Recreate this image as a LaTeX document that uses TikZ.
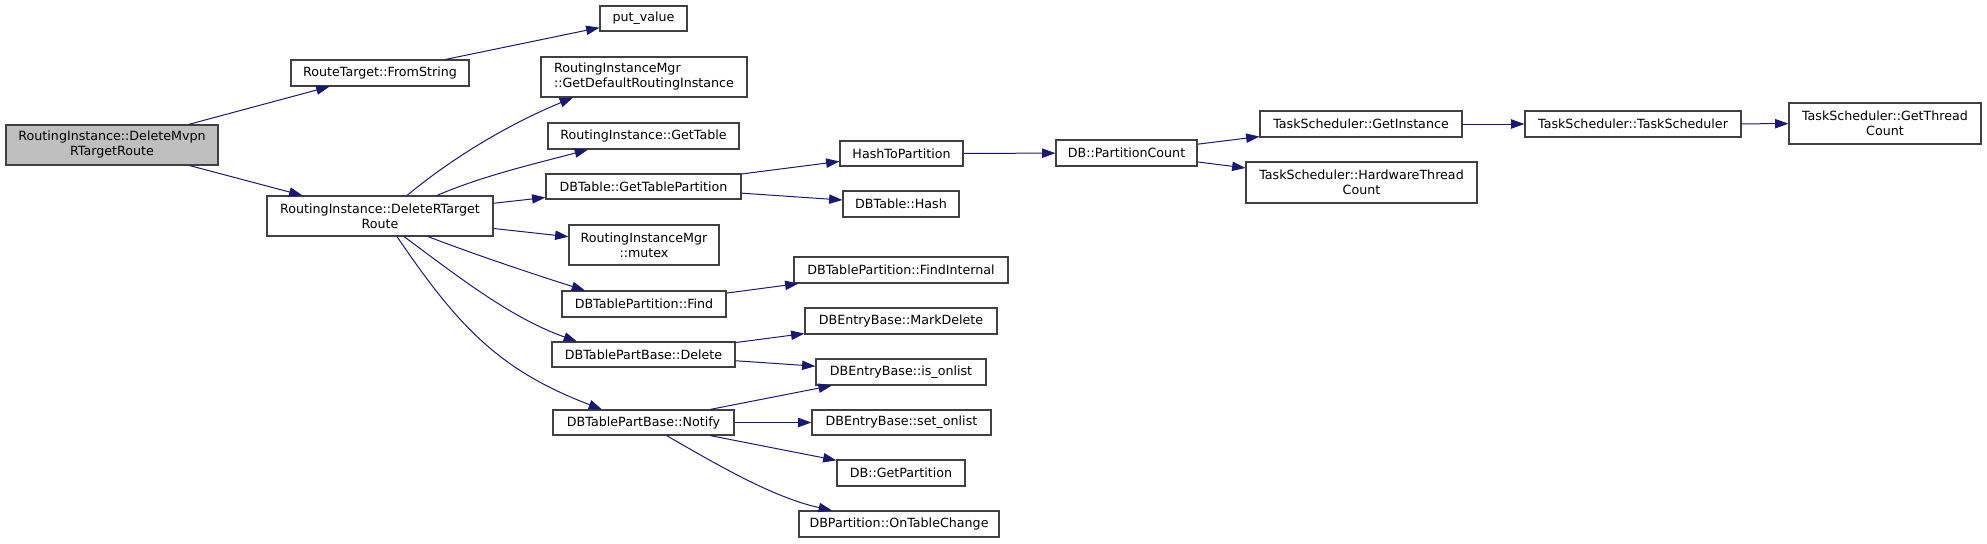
\documentclass[tikz,border=0pt]{standalone}
\usepackage{fontspec}
\setmainfont{DejaVu Sans}
\usetikzlibrary{arrows.meta,calc}
\definecolor{navy}{RGB}{25,25,112}
\definecolor{boxgray}{RGB}{64,64,64}
\definecolor{maingray}{RGB}{191,191,191}
\tikzset{
  box/.style={draw=boxgray, line width=0.85pt, fill=white, rectangle, inner sep=0pt, align=center,
    font=\fontsize{9.5pt}{11.25pt}\selectfont},
  sz/.style 2 args={minimum width=#1*0.75pt, minimum height=#2*0.75pt},
  edge/.style={draw=navy, line width=0.75pt, -{Triangle[length=10pt,width=7pt]}}
}
\begin{document}
\begin{tikzpicture}[x=0.75pt,y=-0.75pt]
\useasboundingbox (0,0) rectangle (1987,543);
% nodes
\node[box,fill=maingray,sz={212}{40}] (main) at (112,145) {RoutingInstance::DeleteMvpn\\RTargetRoute};
\node[box,sz={178}{26}] (fs) at (380,73) {RouteTarget::FromString};
\node[box,sz={226}{40}] (dr) at (380,216) {RoutingInstance::DeleteRTarget\\Route};
\node[box,sz={87}{25}] (pv) at (643.5,18.5) {put\_value};
\node[box,sz={206}{40},align=left] (gdr) at (644,77) {RoutingInstanceMgr\\::GetDefaultRoutingInstance};
\node[box,sz={191}{26}] (gt) at (643.5,136) {RoutingInstance::GetTable};
\node[box,sz={195}{25}] (gtp) at (643.5,186.5) {DBTable::GetTablePartition};
\node[box,sz={150}{40}] (mx) at (644,245) {RoutingInstanceMgr\\::mutex};
\node[box,sz={164}{26}] (fd) at (644,304) {DBTablePartition::Find};
\node[box,sz={183}{25}] (dl) at (643.5,354.5) {DBTablePartBase::Delete};
\node[box,sz={181}{25}] (nt) at (643.5,422.5) {DBTablePartBase::Notify};
\node[box,sz={123}{25}] (htp) at (901.5,153.5) {HashToPartition};
\node[box,sz={116}{26}] (hs) at (901,204) {DBTable::Hash};
\node[box,sz={214}{26}] (fi) at (901,270) {DBTablePartition::FindInternal};
\node[box,sz={192}{26}] (md) at (901,321) {DBEntryBase::MarkDelete};
\node[box,sz={170}{26}] (io) at (901,372) {DBEntryBase::is\_onlist};
\node[box,sz={179}{25}] (so) at (901.5,422.5) {DBEntryBase::set\_onlist};
\node[box,sz={128}{26}] (gp) at (901,473) {DB::GetPartition};
\node[box,sz={200}{26}] (otc) at (899,524) {DBPartition::OnTableChange};
\node[box,sz={141}{26}] (pc) at (1126.5,153) {DB::PartitionCount};
\node[box,sz={202}{26}] (gi) at (1361,124) {TaskScheduler::GetInstance};
\node[box,sz={231}{41}] (hw) at (1361.5,182.5) {TaskScheduler::HardwareThread\\Count};
\node[box,sz={216}{26}] (ts) at (1633,124) {TaskScheduler::TaskScheduler};
\node[box,sz={192}{41}] (gtc) at (1885,123.5) {TaskScheduler::GetThread\\Count};
% edges
\draw[edge] (main) -- (fs);
\draw[edge] (main) -- (dr);
\draw[edge] (fs) -- (pv);
\draw[edge] ($(dr.north)+(27,0)$) .. controls (456.8,154.2) and (513.2,122.4) .. ($(gdr.south)+(-71,0)$);
\draw[edge] ($(dr.north)+(57,0)$) .. controls (483,175.5) and (540,162.5) .. ($(gt.south)+(-55.5,0)$);
\draw[edge] (dr) -- (gtp);
\draw[edge] (dr) -- (mx);
\draw[edge] ($(dr.south)+(48,0)$) .. controls (474.5,254.5) and (537.5,275.5) .. ($(fd.north)+(-59,0)$);
\draw[edge] ($(dr.south)+(24,0)$) .. controls (460,278) and (511,318) .. ($(dl.north)+(-66.5,0)$);
\draw[edge] ($(dr.south)+(17,0)$) .. controls (458.6,327.3) and (499.7,370.4) .. ($(nt.north)+(-41.5,0)$);
\draw[edge] (gtp) -- (htp);
\draw[edge] (gtp) -- (hs);
\draw[edge] (htp) -- (pc);
\draw[edge] (pc) -- (gi);
\draw[edge] (pc) -- (hw);
\draw[edge] (gi) -- (ts);
\draw[edge] (ts) -- (gtc);
\draw[edge] (fd) -- (fi);
\draw[edge] (dl) -- (md);
\draw[edge] (dl) -- (io);
\draw[edge] (nt) -- (io);
\draw[edge] (nt) -- (so);
\draw[edge] (nt) -- (gp);
\draw[edge] ($(nt.south)+(23,0)$) .. controls (718.4,465.4) and (773.2,497.5) .. ($(otc.north)+(-67,0)$);
\end{tikzpicture}
\end{document}
